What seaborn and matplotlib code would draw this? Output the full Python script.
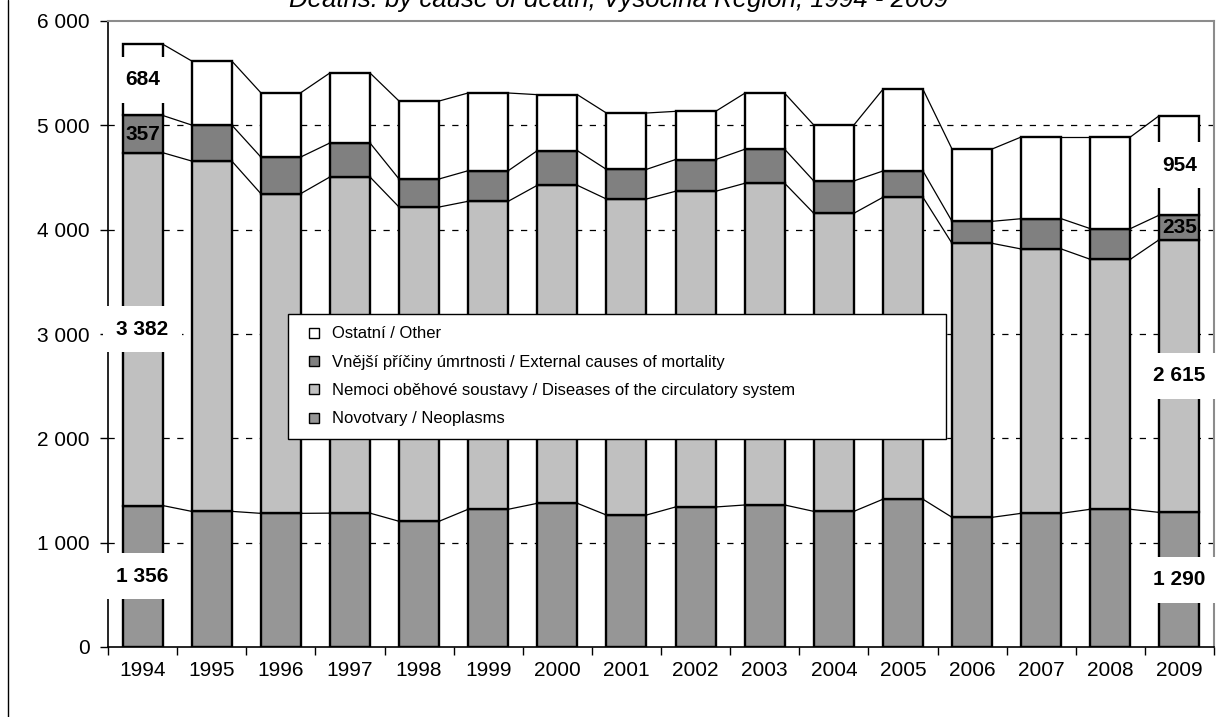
import numpy as np
import pandas as pd
import matplotlib
matplotlib.use("Agg")
import matplotlib.pyplot as plt
import seaborn as sns
from matplotlib.lines import Line2D

# -----------------------------
# Data
# -----------------------------
years = [str(y) for y in range(1994, 2010)]
neoplasms = [1356, 1300, 1281, 1283, 1205, 1320, 1377, 1265,
             1342, 1361, 1300, 1416, 1243, 1281, 1320, 1290]
circulatory = [3382, 3358, 3065, 3222, 3012, 2952, 3048, 3029,
               3026, 3083, 2857, 2894, 2626, 2534, 2396, 2615]
external = [357, 345, 351, 326, 269, 293, 332, 284,
            304, 326, 310, 252, 211, 290, 294, 235]
other = [684, 614, 616, 671, 747, 745, 537, 540,
         462, 537, 536, 783, 693, 783, 878, 954]

series_names = [
    "Novotvary / Neoplasms",
    "Nemoci oběhové soustavy / Diseases of the circulatory system",
    "Vnější příčiny úmrtnosti / External causes of mortality",
    "Ostatní / Other",
]
series_values = [neoplasms, circulatory, external, other]
series_colors = ["#969696", "#c0c0c0", "#808080", "#ffffff"]

y_ticks = [0, 1000, 2000, 3000, 4000, 5000, 6000]
title = "Deaths: by cause of death, Vysočina Region, 1994 - 2009"

# -----------------------------
# Style
# -----------------------------
sns.set_style("white")
plt.rcParams["font.family"] = ["Liberation Sans", "DejaVu Sans"]
plt.rcParams["text.color"] = "black"
plt.rcParams["xtick.color"] = "black"
plt.rcParams["ytick.color"] = "black"

fig = plt.figure(figsize=(12.18, 7.17), dpi=100)
ax = fig.add_axes([108 / 1218, 70 / 717, 1106 / 1218, 626 / 717])

bar_w = 0.58
x_pos = np.arange(len(years))

# -----------------------------
# Stacked bars
# -----------------------------
bottom = np.zeros(len(years))
tops = []
for name, vals, col in zip(series_names, series_values, series_colors):
    df = pd.DataFrame({"year": years, "value": vals})
    sns.barplot(data=df, x="year", y="value", order=years, color=col,
                bottom=bottom.copy(), width=bar_w, edgecolor="black",
                linewidth=1.7, saturation=1, ax=ax, zorder=3)
    bottom = bottom + np.array(vals)
    tops.append(bottom.copy())

# series lines between bars
for level in tops:
    for i in range(len(years) - 1):
        ax.plot([x_pos[i] + bar_w / 2, x_pos[i + 1] - bar_w / 2],
                [level[i], level[i + 1]], color="black", lw=0.9, zorder=2)

# dashed gridlines
for t in y_ticks[1:-1]:
    ax.axhline(t, color="black", lw=0.9, linestyle=(0, (5, 6)), zorder=1)

# -----------------------------
# Data labels for first and last year
# -----------------------------
def fmt(v):
    return f"{v:,}".replace(",", " ")

for idx in [0, len(years) - 1]:
    base = 0
    for s, vals in enumerate(series_values):
        v = vals[idx]
        box = None if s == 2 else dict(facecolor="white", edgecolor="none",
                                       boxstyle="square,pad=0.65")
        ax.text(x_pos[idx], base + v / 2, fmt(v), ha="center", va="center",
                fontsize=15, fontweight="bold", color="black", bbox=box,
                zorder=5)
        base += v

# -----------------------------
# Axes
# -----------------------------
ax.set_xlim(-0.5, len(years) - 0.5)
ax.set_ylim(0, 6000)
ax.set_xlabel("")
ax.set_ylabel("")

ax.set_yticks(y_ticks)
ax.set_yticklabels([fmt(t) for t in y_ticks], fontsize=15)
ax.tick_params(axis="y", direction="out", length=6, width=1, pad=7, left=True)

ax.set_xticks(np.arange(-0.5, len(years), 1))
ax.set_xticklabels([])
ax.tick_params(axis="x", which="major", direction="out", length=6, width=1,
               bottom=True)
ax.set_xticks(x_pos, minor=True)
ax.set_xticklabels(years, minor=True, fontsize=15)
ax.tick_params(axis="x", which="minor", length=0, pad=10)

for side in ["left", "bottom"]:
    ax.spines[side].set_color("black")
    ax.spines[side].set_linewidth(1.2)
for side in ["top", "right"]:
    ax.spines[side].set_visible(True)
    ax.spines[side].set_color("#8c8c8c")
    ax.spines[side].set_linewidth(1.5)

# -----------------------------
# Legend
# -----------------------------
handles = [Line2D([], [], linestyle="none", marker="s", markersize=7,
                  markerfacecolor=c, markeredgecolor="black",
                  markeredgewidth=1)
           for c in series_colors]
leg = ax.legend(handles[::-1], series_names[::-1],
                bbox_to_anchor=(0.163, 0.323, 0.595, 0.209), loc="upper left",
                mode="expand", fontsize=12, frameon=True, fancybox=False,
                framealpha=1, edgecolor="black", borderpad=0.75,
                handlelength=1.6, handletextpad=0.25, labelspacing=0.8,
                borderaxespad=0)
leg.get_frame().set_linewidth(1)
leg.set_zorder(6)

# title, partly cut by the top edge as in the reference
fig.text(0.508, 1 - 7 / 717, title, ha="center", va="baseline",
         fontsize=18.5, style="italic")

# outer border line at left
fig.add_artist(Line2D([8 / 1218, 8 / 1218], [0, 1], transform=fig.transFigure,
                      color="black", lw=1))

plt.savefig("out.png", dpi=100)
plt.close()
